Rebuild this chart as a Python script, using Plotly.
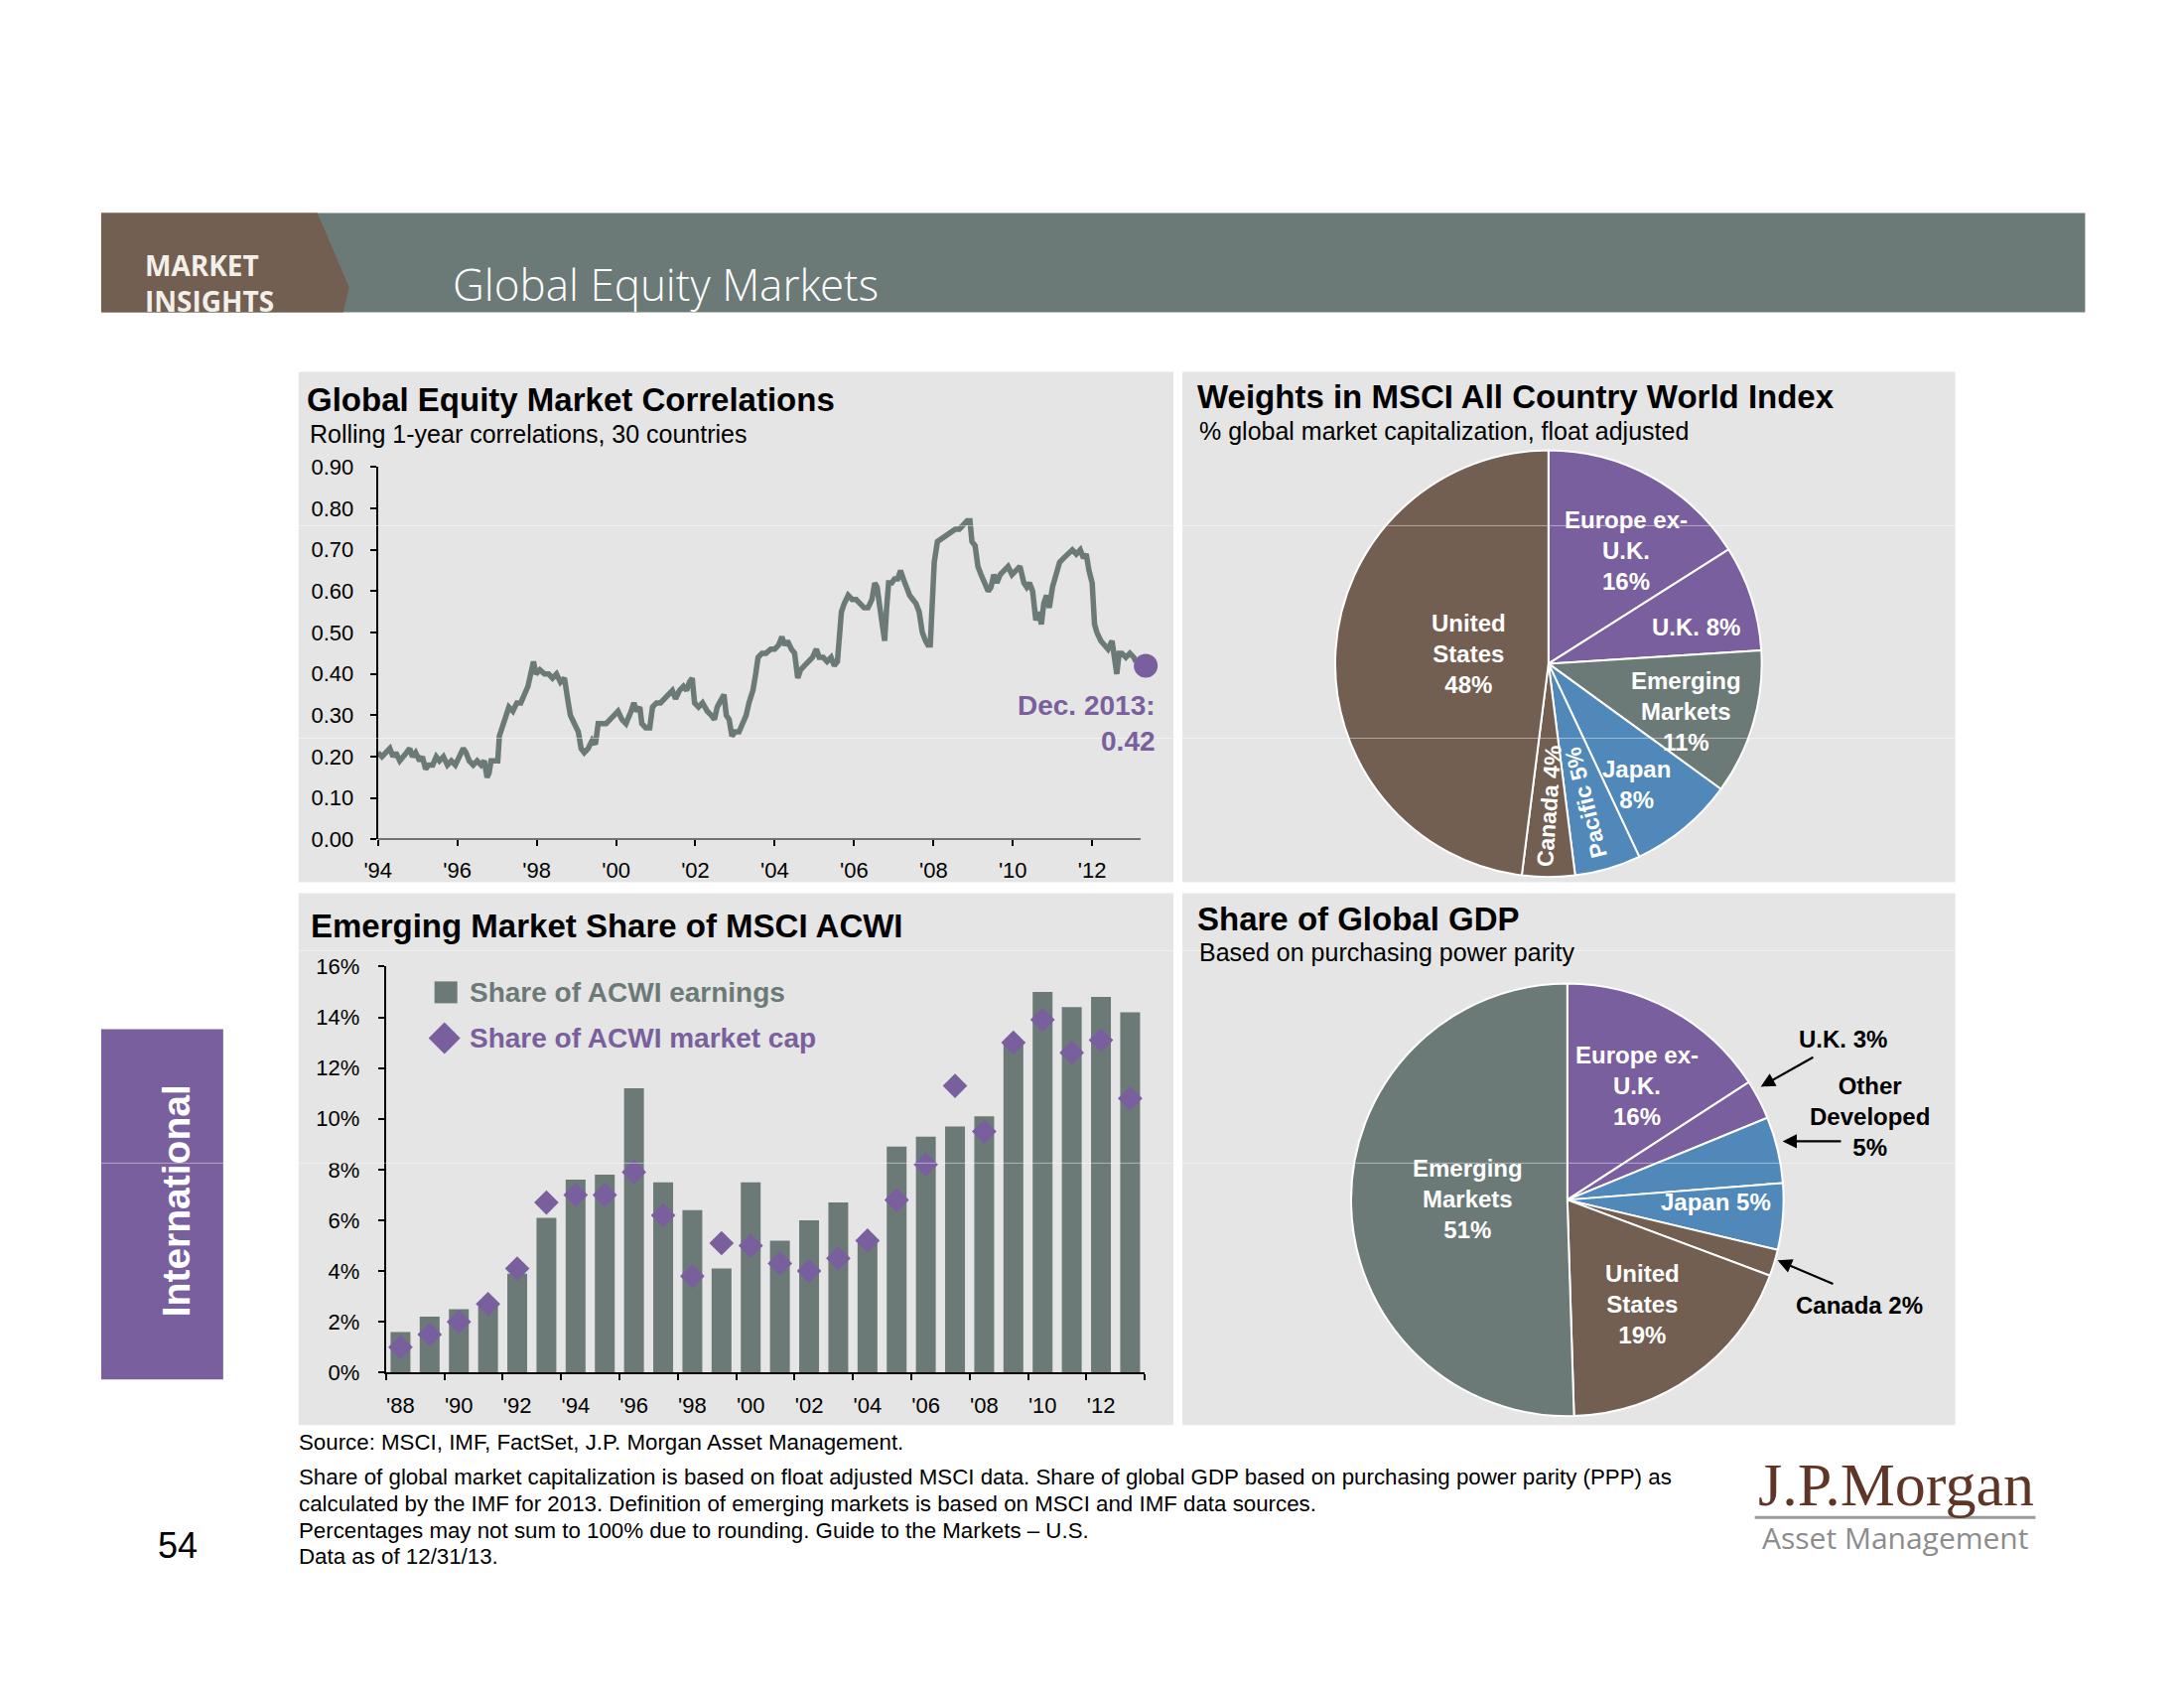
import plotly.graph_objects as go

W, H = 2200, 1700

# The page is photographed with a small offset / scale; targets below are in
# reference-image pixels and are mapped back to figure pixels here.
SX, OX = 0.9944, 20.0
SY, OY = 0.9854, 18.5


def px(x):
    return ((x - OX) / SX) / W


def py(y):
    return 1 - ((y - OY) / SY) / H


# ---------------- DATA ----------------
# Global equity market correlations (rolling 1-year, 30 countries)
corr_year = [
    1994.00, 1994.10, 1994.20, 1994.30, 1994.38, 1994.45, 1994.55, 1994.65, 1994.72, 1994.80,
    1994.87, 1994.95, 1995.05, 1995.12, 1995.20, 1995.28, 1995.38, 1995.47, 1995.55, 1995.65,
    1995.75, 1995.85, 1995.95, 1996.05, 1996.15, 1996.22, 1996.30, 1996.40, 1996.50, 1996.60,
    1996.68, 1996.75, 1996.80, 1996.85, 1996.95, 1997.02, 1997.06, 1997.12, 1997.22, 1997.30,
    1997.40, 1997.50, 1997.60, 1997.68, 1997.78, 1997.85, 1997.92, 1997.98, 1998.08, 1998.20,
    1998.30, 1998.40, 1998.50, 1998.60, 1998.70, 1998.78, 1998.85, 1998.95, 1999.05, 1999.12,
    1999.20, 1999.30, 1999.40, 1999.48, 1999.55, 1999.65, 1999.75, 1999.85, 1999.95, 2000.05,
    2000.15, 2000.25, 2000.38, 2000.45, 2000.52, 2000.60, 2000.65, 2000.75, 2000.85, 2000.92,
    2001.02, 2001.12, 2001.22, 2001.32, 2001.42, 2001.50, 2001.60, 2001.70, 2001.78, 2001.85,
    2001.92, 2001.98, 2002.08, 2002.18, 2002.30, 2002.40, 2002.48, 2002.55, 2002.65, 2002.72,
    2002.78, 2002.85, 2002.92, 2003.00, 2003.10, 2003.20, 2003.28, 2003.35, 2003.45, 2003.52,
    2003.58, 2003.68, 2003.78, 2003.90, 2004.00, 2004.10, 2004.18, 2004.25, 2004.32, 2004.42,
    2004.50, 2004.58, 2004.65, 2004.75, 2004.85, 2004.95, 2005.05, 2005.12, 2005.22, 2005.32,
    2005.42, 2005.50, 2005.58, 2005.62, 2005.68, 2005.75, 2005.85, 2005.95, 2006.05, 2006.15,
    2006.25, 2006.35, 2006.45, 2006.52, 2006.58, 2006.65, 2006.72, 2006.77, 2006.82, 2006.87,
    2006.95, 2007.02, 2007.10, 2007.17, 2007.24, 2007.32, 2007.40, 2007.48, 2007.56, 2007.64,
    2007.72, 2007.80, 2007.86, 2007.92, 2007.97, 2008.02, 2008.10, 2008.25, 2008.40, 2008.55,
    2008.65, 2008.75, 2008.85, 2008.92, 2008.97, 2009.05, 2009.12, 2009.20, 2009.30, 2009.38,
    2009.45, 2009.52, 2009.60, 2009.68, 2009.78, 2009.88, 2009.98, 2010.08, 2010.18, 2010.28,
    2010.35, 2010.42, 2010.50, 2010.58, 2010.65, 2010.72, 2010.78, 2010.85, 2010.92, 2011.00,
    2011.08, 2011.18, 2011.28, 2011.40, 2011.50, 2011.60, 2011.70, 2011.78, 2011.85, 2011.92,
    2012.00, 2012.06, 2012.12, 2012.22, 2012.30, 2012.40, 2012.50, 2012.56, 2012.62, 2012.68,
    2012.75, 2012.85, 2012.95, 2013.05, 2013.10,
]
corr_value = [
    0.21, 0.20, 0.21, 0.22, 0.20, 0.21, 0.19, 0.20, 0.21, 0.22,
    0.20, 0.21, 0.19, 0.20, 0.17, 0.18, 0.18, 0.20, 0.19, 0.20,
    0.18, 0.19, 0.18, 0.20, 0.22, 0.21, 0.19, 0.18, 0.19, 0.18,
    0.19, 0.15, 0.16, 0.19, 0.19, 0.19, 0.25, 0.27, 0.30, 0.32,
    0.31, 0.33, 0.33, 0.35, 0.37, 0.40, 0.43, 0.40, 0.41, 0.40,
    0.40, 0.39, 0.40, 0.38, 0.39, 0.34, 0.30, 0.28, 0.26, 0.22,
    0.21, 0.22, 0.24, 0.23, 0.28, 0.28, 0.28, 0.29, 0.30, 0.31,
    0.29, 0.28, 0.31, 0.33, 0.31, 0.32, 0.28, 0.27, 0.27, 0.32,
    0.33, 0.33, 0.34, 0.35, 0.36, 0.34, 0.36, 0.37, 0.36, 0.38,
    0.39, 0.33, 0.32, 0.33, 0.31, 0.30, 0.29, 0.32, 0.34, 0.35,
    0.30, 0.29, 0.25, 0.26, 0.26, 0.28, 0.30, 0.33, 0.36, 0.40,
    0.44, 0.45, 0.45, 0.46, 0.46, 0.47, 0.49, 0.47, 0.48, 0.46,
    0.45, 0.39, 0.41, 0.42, 0.43, 0.44, 0.46, 0.44, 0.44, 0.43,
    0.44, 0.42, 0.43, 0.50, 0.55, 0.57, 0.59, 0.58, 0.58, 0.57,
    0.56, 0.56, 0.58, 0.62, 0.61, 0.56, 0.50, 0.48, 0.56, 0.62,
    0.62, 0.63, 0.63, 0.65, 0.63, 0.61, 0.59, 0.58, 0.57, 0.55,
    0.50, 0.48, 0.47, 0.47, 0.55, 0.67, 0.72, 0.73, 0.74, 0.75,
    0.75, 0.76, 0.77, 0.77, 0.72, 0.71, 0.66, 0.64, 0.62, 0.60,
    0.61, 0.64, 0.62, 0.64, 0.65, 0.66, 0.64, 0.65, 0.66, 0.62,
    0.61, 0.62, 0.60, 0.53, 0.55, 0.52, 0.57, 0.59, 0.56, 0.61,
    0.64, 0.67, 0.68, 0.69, 0.70, 0.69, 0.70, 0.68, 0.69, 0.65,
    0.62, 0.52, 0.50, 0.48, 0.47, 0.46, 0.48, 0.43, 0.40, 0.45,
    0.45, 0.44, 0.45, 0.44, 0.43,
]
corr_last_year = 2013.35
corr_last_value = 0.42
corr_tick_years = [1994, 1996, 1998, 2000, 2002, 2004, 2006, 2008, 2010, 2012]
corr_tick_labels = ["'94", "'96", "'98", "'00", "'02", "'04", "'06", "'08", "'10", "'12"]

# Emerging market share of MSCI ACWI (%)
em_years = list(range(1988, 2014))
em_earnings = [1.6, 2.2, 2.5, 2.6, 3.9, 6.1, 7.6, 7.8, 11.2, 7.5, 6.4, 4.1, 7.5,
               5.2, 6.0, 6.7, 5.1, 8.9, 9.3, 9.7, 10.1, 13.0, 15.0, 14.4, 14.8, 14.2]
em_mktcap = [1.0, 1.5, 2.0, 2.7, 4.1, 6.7, 7.0, 7.0, 7.9, 6.2, 3.8, 5.1, 5.0,
             4.3, 4.0, 4.5, 5.2, 6.8, 8.2, 11.3, 9.5, 13.0, 13.9, 12.6, 13.1, 10.8]
em_tick_years = [1988, 1990, 1992, 1994, 1996, 1998, 2000, 2002, 2004, 2006, 2008, 2010, 2012]
em_tick_labels = ["'88", "'90", "'92", "'94", "'96", "'98", "'00", "'02", "'04", "'06", "'08", "'10", "'12"]
em_series_names = ["Share of ACWI earnings", "Share of ACWI market cap"]

# Weights in MSCI ACWI (%)
acwi_regions = ["Europe ex-U.K.", "U.K.", "Emerging Markets", "Japan", "Pacific", "Canada", "United States"]
acwi_names = ["Europe ex-<br>U.K.", "U.K.", "Emerging<br>Markets", "Japan", "Pacific", "Canada", "United<br>States"]
acwi_weights = [16, 8, 11, 8, 5, 4, 48]

# Share of global GDP (PPP, %)
gdp_regions = ["Europe ex-U.K.", "U.K.", "Other Developed", "Japan", "Canada", "United States", "Emerging Markets"]
gdp_names = ["Europe ex-<br>U.K.", "U.K.", "Other<br>Developed", "Japan", "Canada", "United<br>States", "Emerging<br>Markets"]
gdp_shares = [16, 3, 5, 5, 2, 19, 51]

# ---------------- STYLE ----------------
GRAY = "#6c7a77"
BROWN = "#735e52"
PURPLE = "#7a5f9e"
BLUE = "#5089b9"
PANEL = "#e4e5e4"
FONT = "Liberation Sans, Arial, Helvetica, sans-serif"

acwi_colors = [PURPLE, PURPLE, GRAY, BLUE, BLUE, BROWN, BROWN]
gdp_colors = [PURPLE, PURPLE, BLUE, BLUE, BROWN, BROWN, GRAY]

fig = go.Figure()

# Correlation line
fig.add_trace(go.Scatter(
    x=corr_year, y=corr_value, mode="lines",
    line=dict(color=GRAY, width=5.5), xaxis="x", yaxis="y",
    hoverinfo="skip", showlegend=False,
))
fig.add_trace(go.Scatter(
    x=[corr_last_year], y=[corr_last_value], mode="markers",
    marker=dict(color=PURPLE, size=24), xaxis="x", yaxis="y",
    cliponaxis=False, hoverinfo="skip", showlegend=False,
))

# EM share bars + diamonds
fig.add_trace(go.Bar(
    x=em_years, y=em_earnings, name=em_series_names[0], width=0.68,
    marker=dict(color=GRAY, line=dict(width=0)), xaxis="x2", yaxis="y2",
    hoverinfo="skip", showlegend=False,
))
fig.add_trace(go.Scatter(
    x=em_years, y=em_mktcap, name=em_series_names[1], mode="markers",
    marker=dict(symbol="diamond", color=PURPLE, size=19, line=dict(width=0)),
    xaxis="x2", yaxis="y2", cliponaxis=False, hoverinfo="skip", showlegend=False,
))

# Pies
fig.add_trace(go.Pie(
    labels=acwi_regions, values=acwi_weights, sort=False, direction="clockwise",
    rotation=0, textinfo="none", hoverinfo="skip", showlegend=False,
    marker=dict(colors=acwi_colors, line=dict(color="white", width=2)),
    domain=dict(x=[px(1344), px(1774)], y=[py(882), py(452)]),
))
fig.add_trace(go.Pie(
    labels=gdp_regions, values=gdp_shares, sort=False, direction="clockwise",
    rotation=0, textinfo="none", hoverinfo="skip", showlegend=False,
    marker=dict(colors=gdp_colors, line=dict(color="white", width=2)),
    domain=dict(x=[px(1360), px(1796)], y=[py(1425), py(989)]),
))

axis_common = dict(
    showline=True, linecolor="black", linewidth=2, ticks="outside",
    tickcolor="black", tickwidth=2, ticklen=6, showgrid=False, zeroline=False,
    fixedrange=True,
)

boundaries = [y - 0.5 for y in em_tick_years] + [em_years[-1] + 0.5]

# correlation x axis: 40 px per year starting at x=379; range leaves room for the end dot
CORR_X0, CORR_XEND, CORR_AXIS_END = 1994, 2013.45, 2013.22

fig.update_layout(
    width=W, height=H, margin=dict(l=0, r=0, t=0, b=0),
    paper_bgcolor="white", plot_bgcolor="rgba(0,0,0,0)",
    font=dict(family=FONT, color="black"),
    xaxis=dict(
        domain=[px(379), px(379 + (CORR_XEND - CORR_X0) * 40)], anchor="y",
        range=[CORR_X0, CORR_XEND],
        tickmode="array", tickvals=corr_tick_years, ticktext=corr_tick_labels,
        tickfont=dict(size=22, family=FONT, color="black"), ticklabelstandoff=5,
        showline=False, ticks="outside", tickcolor="black", tickwidth=2, ticklen=6,
        showgrid=False, zeroline=False, fixedrange=True,
    ),
    yaxis=dict(
        domain=[py(844), py(469)], anchor="x", range=[0, 0.9],
        tickmode="linear", tick0=0, dtick=0.1, tickformat=".2f",
        tickfont=dict(size=22, family=FONT, color="black"), ticklabelstandoff=12,
        **axis_common,
    ),
    xaxis2=dict(
        domain=[px(387), px(1152)], anchor="y2", range=[em_years[0] - 0.5, em_years[-1] + 0.5],
        tickmode="array", tickvals=em_tick_years, ticktext=em_tick_labels,
        tickfont=dict(size=22, family=FONT, color="black"), ticklabelstandoff=12,
        showline=True, linecolor="black", linewidth=2, ticks="", showgrid=False,
        zeroline=False, fixedrange=True,
        minor=dict(tickmode="array", tickvals=boundaries, ticks="outside",
                   ticklen=6, tickwidth=2, tickcolor="black", showgrid=False),
    ),
    yaxis2=dict(
        domain=[py(1381), py(972)], anchor="x2", range=[0, 16],
        tickmode="linear", tick0=0, dtick=2, ticksuffix="%",
        tickfont=dict(size=22, family=FONT, color="black"), ticklabelstandoff=14,
        **axis_common,
    ),
    bargap=0.3,
)

shapes = []


def rect(x0, y0, x1, y1, color, layer="below"):
    return dict(type="rect", xref="paper", yref="paper", x0=px(x0), x1=px(x1),
                y0=py(y1), y1=py(y0), fillcolor=color, line=dict(width=0), layer=layer)


def path(points, color, layer="below"):
    d = "M " + " L ".join(f"{px(x):.5f},{py(y):.5f}" for x, y in points) + " Z"
    return dict(type="path", xref="paper", yref="paper", path=d, fillcolor=color,
                line=dict(width=0), layer=layer)


# header band
shapes.append(rect(100, 213, 2100, 313, GRAY))
shapes.append(path([(100, 213), (318, 213), (350, 288), (344, 313), (100, 313)], BROWN))
# panels
shapes.append(rect(299, 373, 1181, 887, PANEL))
shapes.append(rect(1190, 373, 1969, 887, PANEL))
shapes.append(rect(299, 898, 1181, 1434, PANEL))
shapes.append(rect(1190, 898, 1969, 1434, PANEL))
# International tab
shapes.append(rect(100, 1035, 223, 1388, PURPLE))
# correlation chart x-axis line (ends before the Dec. 2013 dot)
shapes.append(dict(type="line", xref="x", yref="y", x0=CORR_X0, x1=CORR_AXIS_END, y0=0, y1=0,
                   line=dict(color="black", width=2), layer="above"))
# legend glyphs
shapes.append(rect(436, 987, 459, 1009, GRAY, layer="above"))
shapes.append(path([(430, 1044), (446, 1028), (462, 1044), (446, 1060)], PURPLE, layer="above"))
# logo rule
shapes.append(dict(type="line", xref="paper", yref="paper", x0=px(1767), x1=px(2050),
                   y0=py(1527), y1=py(1527), line=dict(color="#9b9b9b", width=3)))
# faint scan seams present in the reference image
for sy in [528, 742, 956, 1170]:
    shapes.append(dict(type="line", xref="paper", yref="paper", x0=px(100), x1=px(2100),
                       y0=py(sy), y1=py(sy), line=dict(color="rgba(255,255,255,0.45)", width=1),
                       layer="above"))

annotations = []


def text(x, y, s, size, color="black", bold=False, xanchor="left", family=FONT,
         angle=0, align="left"):
    if bold:
        s = f"<b>{s}</b>"
    annotations.append(dict(
        x=px(x), y=py(y), xref="paper", yref="paper", text=s, showarrow=False,
        xanchor=xanchor, yanchor="middle", align=align, textangle=angle,
        font=dict(size=size, color=color, family=family),
    ))


# header texts
text(142, 284, "MARKET<br>INSIGHTS", 28, color="#f3efe9", bold=True, family="Open Sans, " + FONT)
text(452, 285, "Global Equity Markets", 44, color="white", family="Open Sans Light, Open Sans, " + FONT)

# panel titles
text(305, 401, "Global Equity Market Correlations", 33, bold=True)
text(308, 436, "Rolling 1-year correlations, 30 countries", 25)
text(1203, 398, "Weights in MSCI All Country World Index", 33, bold=True)
text(1205, 433, "% global market capitalization, float adjusted", 25)
text(309, 931, "Emerging Market Share of MSCI ACWI", 33, bold=True)
text(1203, 924, "Share of Global GDP", 33, bold=True)
text(1205, 958, "Based on purchasing power parity", 25)

# Dec. 2013 callout
text(1165, 727, f"Dec. {int(corr_last_year)}:<br>{corr_last_value:.2f}", 28, color=PURPLE,
     bold=True, xanchor="right", align="right")

# bar chart legend text
text(469, 998, em_series_names[0], 28, color=GRAY, bold=True)
text(469, 1044, em_series_names[1], 28, color=PURPLE, bold=True)

# ACWI pie labels
acwi_pos = [(1637, 553), (1708, 630), (1698, 715), (1648, 789), (1597, 807), (1560, 810), (1479, 657)]
acwi_sep = ["<br>", " ", "<br>", "<br>", " ", " ", "<br>"]
acwi_angle = [0, 0, 0, 0, -104, -86, 0]
for name, v, (x, y), sep, ang in zip(acwi_names, acwi_weights, acwi_pos, acwi_sep, acwi_angle):
    text(x, y, f"{name}{sep}{v}%", 24 if ang == 0 else 23, color="white", bold=True,
         xanchor="center", align="center", angle=ang)

# GDP pie labels
gdp_pos = [(1648, 1092), (1856, 1045), (1883, 1123), (1728, 1209), (1872, 1313), (1654, 1312), (1478, 1206)]
gdp_sep = ["<br>", " ", "<br>", " ", " ", "<br>", "<br>"]
gdp_inside = [True, False, False, True, False, True, True]
for name, v, (x, y), sep, inside in zip(gdp_names, gdp_shares, gdp_pos, gdp_sep, gdp_inside):
    text(x, y, f"{name}{sep}{v}%", 24, color="white" if inside else "black", bold=True,
         xanchor="center", align="center")

# arrows for small GDP slices (tip, tail)
for (tx, ty), (sx, sy) in [((1773, 1093), (1827, 1063)),
                           ((1795, 1148), (1855, 1148)),
                           ((1790, 1268), (1847, 1292))]:
    annotations.append(dict(
        x=px(tx), y=py(ty), xref="paper", yref="paper", text="", showarrow=True,
        ax=(sx - tx) / SX, ay=(sy - ty) / SY, axref="pixel", ayref="pixel",
        arrowhead=2, arrowsize=1.3, arrowwidth=2.2, arrowcolor="black", standoff=0,
    ))

# International tab text
text(175, 1208, "International", 39, color="white", bold=True, xanchor="center",
     align="center", angle=-90)
# page number
text(177, 1555, "54", 36, xanchor="center", align="center")

# footnotes
foot = [
    (1451, "Source: MSCI, IMF, FactSet, J.P. Morgan Asset Management."),
    (1486, "Share of global market capitalization is based on float adjusted MSCI data. Share of global GDP based on purchasing power parity (PPP) as"),
    (1513, "calculated by the IMF for 2013. Definition of emerging markets is based on MSCI and IMF data sources."),
    (1540, "Percentages may not sum to 100% due to rounding. Guide to the Markets \u2013 U.S."),
    (1566, "Data as of 12/31/13."),
]
for y, s in foot:
    text(297, y, s, 22.3)

# logo
text(1909, 1494, "J.P.Morgan", 62, color="#5e3526", xanchor="center", align="center",
     family="Liberation Serif, DejaVu Serif, serif")
text(1908, 1547, "Asset Management", 30, color="#8c8c8c", xanchor="center", align="center",
     family="Open Sans, " + FONT)

fig.update_layout(shapes=shapes, annotations=annotations)

fig.write_html("out.html")
